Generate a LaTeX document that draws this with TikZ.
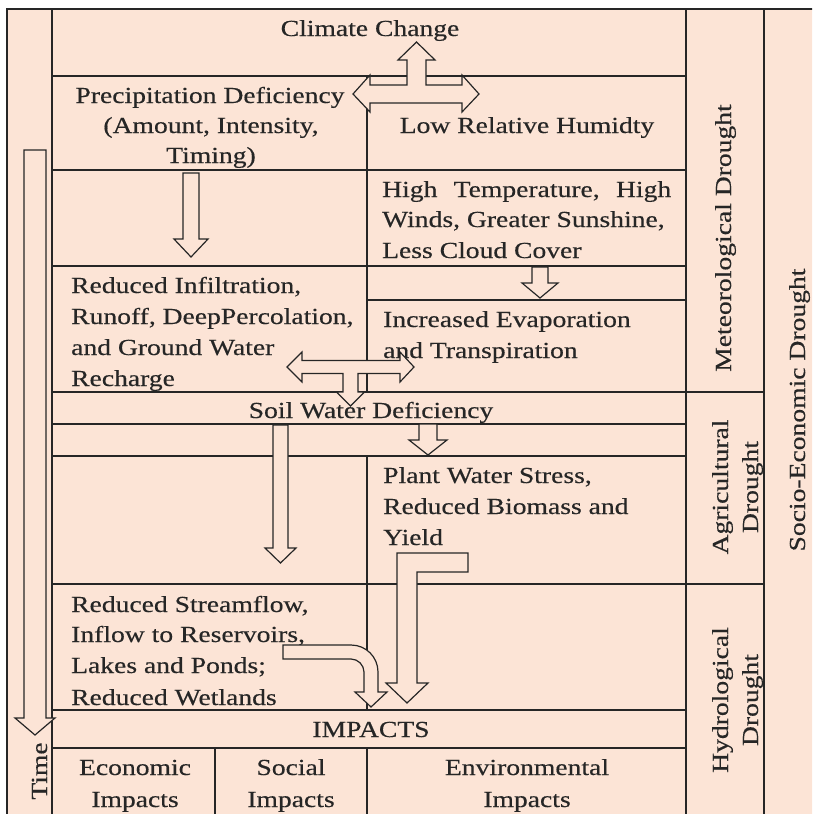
\documentclass[tikz,border=0pt]{standalone}
\usepackage{fontspec}
\setmainfont[FakeStretch=1.2,FakeBold=0.4]{Liberation Serif}
\newcommand\myfs{\fontsize{23}{30}\selectfont}
\definecolor{bg}{HTML}{FCE4D6}
\definecolor{linec}{HTML}{262626}
\tikzset{
  ln/.style={line width=1.3pt, draw=linec},
  arr/.style={line width=1.2pt, draw=linec, fill=bg, line join=miter},
  txt/.style={inner sep=0pt, font=\myfs, text=linec},
  rot/.style={txt, rotate=90, anchor=base},
}
\begin{document}
\begin{tikzpicture}[x=1pt, y=-1pt]
\useasboundingbox (0,0) rectangle (812,814);
\clip (0,0) rectangle (812,814);
\fill[bg] (7,9) rectangle (840,840);
% frame
\draw[ln] (7,840) -- (7,9) -- (840,9);
\draw[ln] (52,9) -- (52,840);
\draw[ln] (686,9) -- (686,840);
\draw[ln] (764,9) -- (764,840);
% horizontal rows
\draw[ln] (52,76) -- (686,76);
\draw[ln] (52,170) -- (686,170);
\draw[ln] (52,266) -- (686,266);
\draw[ln] (367,300) -- (686,300);
\draw[ln] (52,392) -- (764,392);
\draw[ln] (52,424) -- (686,424);
\draw[ln] (52,456) -- (686,456);
\draw[ln] (52,584) -- (764,584);
\draw[ln] (52,710) -- (686,710);
\draw[ln] (52,748) -- (686,748);
% vertical dividers
\draw[ln] (367,76) -- (367,392);
\draw[ln] (367,456) -- (367,710);
\draw[ln] (367,748) -- (367,840);
\draw[ln] (215,748) -- (215,840);
% texts
\node[txt, anchor=base] (cc) at (370,36) {Climate Change};
\node[txt, anchor=base] (pd1) at (210,103) {Precipitation Deficiency};
\node[txt, anchor=base] (pd2) at (211,133) {(Amount, Intensity,};
\node[txt, anchor=base] (pd3) at (211,163) {Timing)};
\node[txt, anchor=base] (lrh) at (527,133) {Low Relative Humidty};
\node[txt, anchor=base west] (ht1) at (382,197) {\hbox to 289pt{High\hfill Temperature,\hfill High}};
\node[txt, anchor=base west] (ht2) at (382,227) {Winds, Greater Sunshine,};
\node[txt, anchor=base west] (ht3) at (382,258) {Less Cloud Cover};
\node[txt, anchor=base west] (ri1) at (71,293) {Reduced Infiltration,};
\node[txt, anchor=base west] (ri2) at (71,324) {Runoff, DeepPercolation,};
\node[txt, anchor=base west] (ri3) at (71,355) {and Ground Water};
\node[txt, anchor=base west] (ri4) at (71,386) {Recharge};
\node[txt, anchor=base west] (ie1) at (383,327) {Increased Evaporation};
\node[txt, anchor=base west] (ie2) at (383,358) {and Transpiration};
\node[txt, anchor=base] (swd) at (371,418) {Soil Water Deficiency};
\node[txt, anchor=base west] (pw1) at (383,483) {Plant Water Stress,};
\node[txt, anchor=base west] (pw2) at (383,514) {Reduced Biomass and};
\node[txt, anchor=base west] (pw3) at (383,545) {Yield};
\node[txt, anchor=base west] (rs1) at (71,612) {Reduced Streamflow,};
\node[txt, anchor=base west] (rs2) at (71,642) {Inflow to Reservoirs,};
\node[txt, anchor=base west] (rs3) at (71,673) {Lakes and Ponds;};
\node[txt, anchor=base west] (rs4) at (71,705) {Reduced Wetlands};
\node[txt, anchor=base] (imp) at (371,737) {IMPACTS};
\node[txt, anchor=base] (ec1) at (135,775) {Economic};
\node[txt, anchor=base] (ec2) at (135,807) {Impacts};
\node[txt, anchor=base] (so1) at (291,775) {Social};
\node[txt, anchor=base] (so2) at (291,807) {Impacts};
\node[txt, anchor=base] (en1) at (527,775) {Environmental};
\node[txt, anchor=base] (en2) at (527,807) {Impacts};
\node[rot] (met) at (731,238) {Meteorological Drought};
\node[rot] (ag1) at (728,487) {Agricultural};
\node[rot] (ag2) at (758,487) {Drought};
\node[rot] (hy1) at (728,700) {Hydrological};
\node[rot] (hy2) at (758,700) {Drought};
\node[rot] (soc) at (805,410) {Socio-Economic Drought};
\node[rot] (time) at (47,771) {Time};
% arrows
\draw[arr] (24,150) -- (46,150) -- (46,718) -- (55,718) -- (35,735) -- (15,718) -- (24,718) -- cycle;
\draw[arr] (416.5,42) -- (435,60) -- (426,60) -- (426,85) -- (462,85) -- (462,75) -- (479,94)
  -- (462,112) -- (462,103) -- (370,103) -- (370,112) -- (353,94) -- (370,75) -- (370,85)
  -- (407,85) -- (407,60) -- (398,60) -- cycle;
\draw[arr] (183,173) -- (199,173) -- (199,239) -- (208,239) -- (191,257) -- (174,239) -- (183,239) -- cycle;
\draw[arr] (532,267) -- (548,267) -- (548,283) -- (558,283) -- (540,298) -- (522,283) -- (532,283) -- cycle;
\draw[arr] (287,367) -- (302,352) -- (302,360.5) -- (400,360.5) -- (400,352) -- (414,367) -- (400,382)
  -- (400,373.5) -- (358,373.5) -- (358,392) -- (364.5,392) -- (350.5,406) -- (336.5,392)
  -- (343,392) -- (343,373.5) -- (302,373.5) -- (302,382) -- cycle;
\draw[arr] (273,425) -- (288,425) -- (288,548) -- (296,548) -- (280.5,563) -- (265,548) -- (273,548) -- cycle;
\draw[arr] (419,424) -- (437,424) -- (437,440) -- (447,440) -- (428,455) -- (409,440) -- (419,440) -- cycle;
\draw[arr] (468,553) -- (468,572) -- (417,572) -- (417,683) -- (428,683) -- (407,703) -- (386,683)
  -- (397,683) -- (397,553) -- cycle;
\draw[arr] (283,645) -- (351,645) .. controls (366,645) and (378,657) .. (378,672) -- (378,692)
  -- (387,692) -- (371,707) -- (355,692) -- (364,692) -- (364,672)
  .. controls (364,665) and (358,659) .. (351,659) -- (283,659) -- cycle;
\end{tikzpicture}
\end{document}
